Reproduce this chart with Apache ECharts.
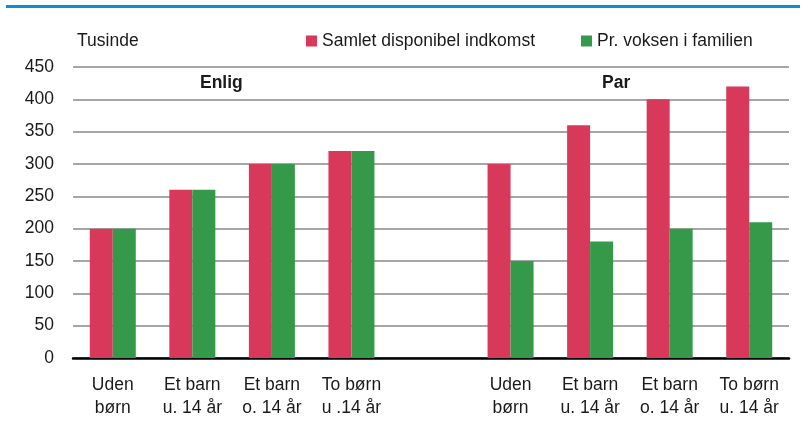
<!DOCTYPE html>
<html><head><meta charset="utf-8">
<script src="https://cdn.jsdelivr.net/npm/echarts@6/dist/echarts.min.js"></script>
<style>html,body{margin:0;padding:0;background:#fff}#c{width:803px;height:425px}</style>
</head><body><div id="c"></div>
<script>
const categories = ['Uden\nbørn','Et barn\nu. 14 år','Et barn\no. 14 år','To børn\nu .14 år','','Uden\nbørn','Et barn\nu. 14 år','Et barn\no. 14 år','To børn\nu. 14 år'];
const samlet = [200,260,300,320,null,300,360,400,420];
const prVoksen = [200,260,300,320,null,150,180,200,210];
const seriesNames = ['Samlet disponibel indkomst','Pr. voksen i familien'];
const groupLabels = ['Enlig','Par'];
const unitLabel = 'Tusinde';

const FONT = '"Liberation Sans",Arial,sans-serif';
const FS = 17.5;
const chart = echarts.init(document.getElementById('c'));
chart.setOption({
  animation:false,
  textStyle:{fontFamily:FONT},
  graphic:[
    {type:'rect',shape:{x:6,y:5,width:794,height:3},style:{fill:'#0a8fd0'}},
    {type:'text',left:77,top:32,style:{text:unitLabel,font:FS+'px '+FONT,fill:'#1a1a1a'}},
    {type:'text',left:200,top:74,style:{text:groupLabels[0],font:'bold '+FS+'px '+FONT,fill:'#1a1a1a'}},
    {type:'text',left:602,top:74,style:{text:groupLabels[1],font:'bold '+FS+'px '+FONT,fill:'#1a1a1a'}}
  ],
  legend:{
    left:306, top:32, padding:0, itemWidth:11, itemHeight:11, itemGap:46, icon:'rect',
    textStyle:{fontSize:FS,color:'#1a1a1a',fontFamily:FONT},
    data:seriesNames
  },
  grid:{left:73,right:14,top:67,bottom:67,containLabel:false},
  xAxis:{
    type:'category', data:categories,
    axisLine:{lineStyle:{color:'#000',width:2.5}},
    axisTick:{show:false},
    axisLabel:{color:'#1a1a1a',fontSize:FS,lineHeight:23,margin:16,interval:0,fontFamily:FONT}
  },
  yAxis:{
    type:'value', min:0, max:450, interval:50,
    axisLine:{show:false}, axisTick:{show:false},
    splitLine:{lineStyle:{color:'#a6a6a6',width:2}},
    axisLabel:{color:'#1a1a1a',fontSize:FS,margin:19,fontFamily:FONT}
  },
  series:[
    {name:seriesNames[0],type:'bar',data:samlet,barWidth:23,barGap:'0%',itemStyle:{color:'#d8395a'}},
    {name:seriesNames[1],type:'bar',data:prVoksen,barWidth:23,barGap:'0%',itemStyle:{color:'#349a4a'}}
  ]
});
</script></body></html>
